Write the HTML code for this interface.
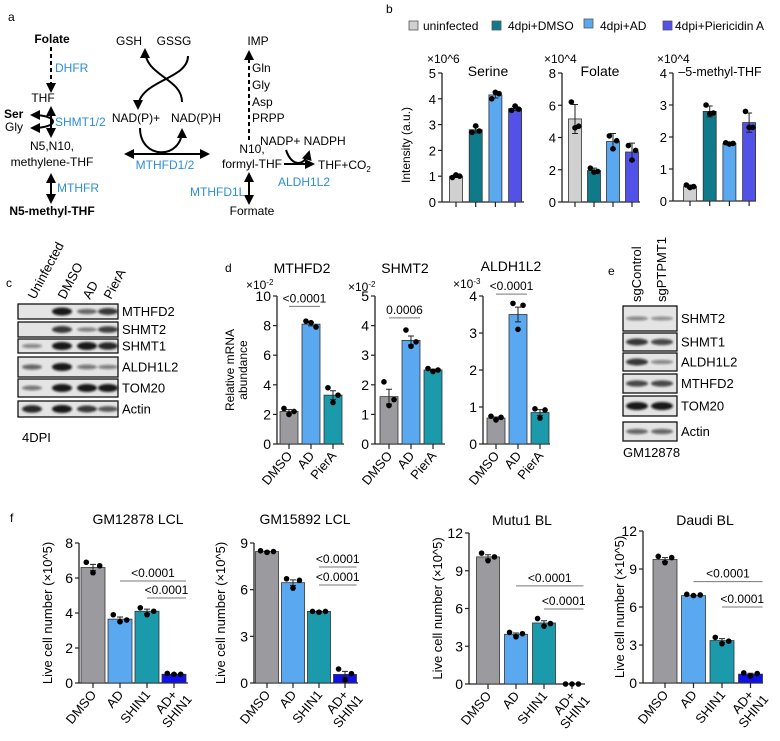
<!DOCTYPE html>
<html><head><meta charset="utf-8"><style>
html,body{margin:0;padding:0;background:#fff}
svg{display:block;font-family:"Liberation Sans",Arial,sans-serif}
</style></head><body>
<svg id="fig" width="780" height="741" viewBox="0 0 780 741" xmlns="http://www.w3.org/2000/svg">
<defs>
<filter id="blur" x="-20%" y="-50%" width="140%" height="200%"><feGaussianBlur stdDeviation="1.1"/></filter>
<marker id="ah" viewBox="0 0 10 10" refX="8" refY="5" markerWidth="5" markerHeight="5" orient="auto-start-reverse"><path d="M0,0 L10,5 L0,10 z" fill="#000"/></marker>
</defs>

<g font-size="12">
<text x="8" y="21" font-size="12">a</text>
<text x="52" y="43" text-anchor="middle" font-weight="bold">Folate</text>
<line x1="51" y1="47" x2="51" y2="91" stroke="#000" stroke-width="2" stroke-dasharray="4,3" marker-end="url(#ah)"/>
<text x="55" y="72" fill="#2b8fd8">DHFR</text>
<text x="43" y="102" text-anchor="middle">THF</text>
<line x1="51" y1="108" x2="51" y2="136" stroke="#000" stroke-width="2" marker-start="url(#ah)" marker-end="url(#ah)"/>
<text x="4" y="118" font-weight="bold">Ser</text>
<text x="5" y="131">Gly</text>
<path d="M32,115 C60,115 60,128 32,128" fill="none" stroke="#000" stroke-width="2" marker-start="url(#ah)" marker-end="url(#ah)"/>
<text x="55" y="126" fill="#2b8fd8">SHMT1/2</text>
<text x="52" y="150" text-anchor="middle">N5,N10,</text>
<text x="52" y="166" text-anchor="middle">methylene-THF</text>
<line x1="51" y1="175" x2="51" y2="202" stroke="#000" stroke-width="2" marker-start="url(#ah)" marker-end="url(#ah)"/>
<text x="57" y="192" fill="#2b8fd8">MTHFR</text>
<text x="52" y="215" text-anchor="middle" font-weight="bold">N5-methyl-THF</text>
<text x="129" y="45" text-anchor="middle">GSH</text>
<text x="174" y="45" text-anchor="middle">GSSG</text>
<path d="M188,56 C188,80 138,80 138,108" fill="none" stroke="#000" stroke-width="2" marker-end="url(#ah)"/>
<path d="M182,102 C182,78 145,76 145,50" fill="none" stroke="#000" stroke-width="2" marker-end="url(#ah)"/>
<text x="136" y="122" text-anchor="middle">NAD(P)+</text>
<text x="196" y="122" text-anchor="middle">NAD(P)H</text>
<path d="M140,128 C140,160 182,160 182,130" fill="none" stroke="#000" stroke-width="2" marker-end="url(#ah)"/>
<line x1="126" y1="154" x2="208" y2="154" stroke="#000" stroke-width="2" marker-start="url(#ah)" marker-end="url(#ah)"/>
<text x="165" y="169" text-anchor="middle" fill="#2b8fd8">MTHFD1/2</text>
<text x="258" y="45" text-anchor="middle">IMP</text>
<line x1="249" y1="140" x2="249" y2="52" stroke="#000" stroke-width="2" stroke-dasharray="4,3" marker-end="url(#ah)"/>
<text x="252" y="72">Gln</text>
<text x="252" y="89">Gly</text>
<text x="252" y="106">Asp</text>
<text x="252" y="122">PRPP</text>
<text x="260" y="145">NADP+ NADPH</text>
<text x="252" y="153" text-anchor="middle">N10,</text>
<text x="252" y="168" text-anchor="middle">formyl-THF</text>
<line x1="284" y1="164" x2="313" y2="164" stroke="#000" stroke-width="2" marker-end="url(#ah)"/>
<path d="M286,150 C292,168 305,166 309,152" fill="none" stroke="#000" stroke-width="2" marker-end="url(#ah)"/>
<text x="318" y="169">THF+CO<tspan font-size="8" dy="3">2</tspan></text>
<text x="278" y="186" fill="#2b8fd8">ALDH1L2</text>
<line x1="249" y1="174" x2="249" y2="203" stroke="#000" stroke-width="2" marker-start="url(#ah)" marker-end="url(#ah)"/>
<text x="190" y="196" fill="#2b8fd8">MTHFD1L</text>
<text x="252" y="215" text-anchor="middle">Formate</text>
</g>

<text x="386" y="13" font-size="12">b</text>
<g font-size="12">
<rect x="409" y="21" width="9" height="9" fill="#d0d0d0" stroke="#555" stroke-width="0.8"/>
<text x="423" y="30">uninfected</text>
<rect x="492" y="21" width="9" height="9" fill="#0e7a8a" stroke="#555" stroke-width="0.8"/>
<text x="508" y="30">4dpi+DMSO</text>
<rect x="584" y="19" width="9" height="9" fill="#5aa8f0" stroke="#555" stroke-width="0.8"/>
<text x="600" y="30">4dpi+AD</text>
<rect x="663" y="21" width="9" height="9" fill="#5252e8" stroke="#555" stroke-width="0.8"/>
<text x="675" y="30">4dpi+Piericidin A</text>
</g>
<text x="410" y="145" transform="rotate(-90 410 145)" text-anchor="middle" font-size="12">Intensity (a.u.)</text>

<text x="6" y="287" font-size="12">c</text>
<text x="225" y="272" font-size="12">d</text>
<text x="234" y="370" transform="rotate(-90 234 370)" text-anchor="middle" font-size="12">Relative mRNA</text>
<text x="247" y="370" transform="rotate(-90 247 370)" text-anchor="middle" font-size="12">abundance</text>
<text x="608" y="275" font-size="12">e</text>
<text x="10" y="522" font-size="12">f</text>
<g id="blots"></g>
<g id="charts"></g>
</svg>
<script>
const bCats = ["uninfected","4dpi+DMSO","4dpi+AD","4dpi+Piericidin A"];
const serineVals = [1.0, 2.8, 4.15, 3.62];
const serinePts = [[0.95,1.05,1.0],[2.7,2.95,2.75],[4.0,4.25,4.2],[3.55,3.72,3.6]];
const serineErr = [0.05, 0.12, 0.12, 0.08];
const serineTicks = [0,1,2,3,4,5];
const folateVals = [5.15, 1.95, 3.75, 3.1];
const folatePts = [[6.2,4.6,4.7],[2.1,1.85,1.9],[4.1,3.3,3.8],[3.5,2.6,3.2]];
const folateErr = [0.9, 0.15, 0.5, 0.55];
const folateTicks = [0,2,4,6,8];
const mthfVals = [0.45, 2.8, 1.8, 2.45];
const mthfPts = [[0.5,0.42,0.45],[3.0,2.72,2.75],[1.82,1.78,1.8],[2.8,2.3,2.3]];
const mthfErr = [0.05, 0.17, 0.03, 0.3];
const mthfTicks = [0,1,2,3,4];

const dCats = ["DMSO","AD","PierA"];
const mthfd2Vals = [2.2, 8.1, 3.3];
const mthfd2Pts = [[2.4,2.0,2.2],[8.3,8.2,7.9],[3.8,2.8,3.3]];
const mthfd2Err = [0.12, 0.12, 0.3];
const mthfd2Ticks = [0,2,4,6,8,10];
const shmt2Vals = [1.6, 3.5, 2.5];
const shmt2Pts = [[2.1,1.3,1.5],[3.85,3.3,3.45],[2.55,2.45,2.5]];
const shmt2Err = [0.25, 0.15, 0.03];
const shmt2Ticks = [0,1,2,3,4,5];
const aldhVals = [0.7, 3.5, 0.85];
const aldhPts = [[0.75,0.65,0.72],[3.8,3.1,3.75],[0.95,0.7,0.92]];
const aldhErr = [0.03, 0.2, 0.08];
const aldhTicks = [0,1,2,3,4];

const fCats = ["DMSO","AD","SHIN1","AD+ SHIN1"];
const gm12878Vals = [6.6, 3.65, 4.1, 0.5];
const gm12878Pts = [[6.9,6.3,6.7],[3.9,3.5,3.6],[4.3,3.9,4.1],[0.55,0.5,0.5]];
const gm12878Err = [0.18, 0.12, 0.12, 0.02];
const gm12878Ticks = [0,2,4,6,8];
const gm15892Vals = [8.45, 6.45, 4.6, 0.55];
const gm15892Pts = [[8.5,8.4,8.45],[6.7,6.1,6.6],[4.6,4.55,4.6],[0.9,0.2,0.6]];
const gm15892Err = [0.03, 0.18, 0.02, 0.2];
const gm15892Ticks = [0,3,6,9];
const mutuVals = [10.1, 3.95, 4.85, 0];
const mutuPts = [[10.4,9.8,10.1],[4.1,3.75,4.0],[5.2,4.6,4.8],[0,0,0]];
const mutuErr = [0.17, 0.1, 0.18, 0];
const mutuTicks = [0,3,6,9,12];
const daudiVals = [9.75, 6.9, 3.35, 0.7];
const daudiPts = [[10.0,9.5,9.9],[7.0,6.9,6.95],[3.6,3.1,3.3],[0.8,0.55,0.75]];
const daudiErr = [0.15, 0.03, 0.15, 0.07];
const daudiTicks = [0,3,6,9,12];

const NS = "http://www.w3.org/2000/svg";
const charts = document.getElementById("charts");
function mk(tag, attrs, parent){
  const e = document.createElementNS(NS, tag);
  for (const k in attrs) e.setAttribute(k, attrs[k]);
  parent.appendChild(e);
  return e;
}

function chart(c){
  const g = mk("g", {}, charts);
  
  
  const maxV = c.ticks[c.ticks.length-1];
  const y = v => c.yBot - (v/maxV)*(c.yBot - c.yTop);
  const xc = i => c.first + i*c.step;
  const ya = mk("line", {x1:c.ax, y1:c.yTop, x2:c.ax, y2:c.yBot, stroke:"#222", "stroke-width":1.3}, g);
  
  
  const xa = mk("line", {x1:c.ax, y1:c.yBot, x2:c.right, y2:c.yBot, stroke:"#222", "stroke-width":1.3}, g);
  
  
  c.ticks.forEach(t => {
    const tl = mk("line", {x1:c.ax-4, y1:y(t), x2:c.ax, y2:y(t), stroke:"#222", "stroke-width":1.2}, g);
    
    
    const tx = mk("text", {x:c.ax-6, y:y(t)+5, "text-anchor":"end", "font-size":c.fs||14}, g);
    
    
    tx.textContent = t;
  });
  c.vals.forEach((v,i) => {
    const bar = mk("rect", {x:xc(i)-c.bw/2, y:y(v), width:c.bw, height:Math.max(0,c.yBot-y(v)), fill:c.colors[i], stroke:"#333", "stroke-width":0.8}, g);
    
    
    const tk = mk("line", {x1:xc(i), y1:c.yBot, x2:xc(i), y2:c.yBot+5, stroke:"#222", "stroke-width":1.2}, g);
    
    
    const e = c.err[i];
    if (e > 0) {
      const eb = mk("path", {d:`M${xc(i)},${y(v+e)} V${y(v-e)} M${xc(i)-3},${y(v+e)} H${xc(i)+3} M${xc(i)-3},${y(v-e)} H${xc(i)+3}`, stroke:"#222", "stroke-width":1, fill:"none"}, g);
      
      
    }
    c.pts[i].forEach((p,j) => {
      const dot = mk("circle", {cx:xc(i)+(j-1)*c.bw*0.28, cy:y(p), r:2.8, fill:"#000"}, g);
      
      
    });
    if (c.xlab) {
      const parts = c.cats[i].split(" ");
      const lx = xc(i)+4, ly = c.yBot+12;
      const t = mk("text", {x:lx, y:ly, "text-anchor":"end", "font-size":13, transform:`rotate(-50 ${lx} ${ly})`}, g);
      
      
      if (parts.length === 1) t.textContent = parts[0];
      else {
        const s1 = mk("tspan", {x:lx, dy:0}, t); s1.textContent = parts[0];
        const s2 = mk("tspan", {x:lx+6, dy:14}, t); s2.textContent = parts[1];
      }
    }
  });
  (c.sig||[]).forEach(s => {
    const ln = mk("line", {x1:xc(s.a), y1:y(s.v), x2:xc(s.b)+c.bw/2, y2:y(s.v), stroke:"#777", "stroke-width":1}, g);
    
    
    const tx = mk("text", {x:(xc(s.a)+xc(s.b)+c.bw/2)/2, y:y(s.v)-4, "text-anchor":"middle", "font-size":12}, g);
    
    
    tx.textContent = s.t;
  });
  if (c.title) {
    const tt = mk("text", {x:c.tx, y:c.ty, "text-anchor":"middle", "font-size":c.tfs||14}, g);
    
    
    tt.textContent = c.title;
  }
  if (c.mult) {
    const mt = mk("text", {x:c.mx, y:c.my, "font-size":12}, g);
    
    
    mt.textContent = c.mult;
    if (c.sup) { const sp = mk("tspan", {dy:-4, "font-size":8}, mt); sp.textContent = c.sup; }
  }
  if (c.ylab) {
    const yl = mk("text", {x:c.ylx, y:(c.yTop+c.yBot)/2, "text-anchor":"middle", "font-size":13, transform:`rotate(-90 ${c.ylx} ${(c.yTop+c.yBot)/2})`}, g);
    
    
    yl.textContent = c.ylab;
  }
}

const bCol = ["#d0d0d0","#0e7a8a","#5aa8f0","#5252e8"];
chart({name:"serine", cats:bCats, vals:serineVals, pts:serinePts, err:serineErr, ticks:serineTicks, colors:bCol, ax:442, right:524, yTop:73, yBot:202, first:456, step:19.7, bw:13, title:"Serine", tx:488, ty:76, mult:"×10^6", mx:427, my:63, fs:13});
chart({name:"folate", cats:bCats, vals:folateVals, pts:folatePts, err:folateErr, ticks:folateTicks, colors:bCol, ax:562, right:640, yTop:73, yBot:202, first:575, step:19, bw:13, title:"Folate", tx:600, ty:76, mult:"×10^4", mx:544, my:63, fs:13});
chart({name:"methyl-thf", cats:bCats, vals:mthfVals, pts:mthfPts, err:mthfErr, ticks:mthfTicks, colors:bCol, ax:673, right:756, yTop:73, yBot:201, first:690, step:19.7, bw:13, title:"–5-methyl-THF", tx:720, ty:76, tfs:12.5, mult:"×10^4", mx:657, my:63, fs:13});

const dCol = ["#9a9a9f","#5aa8f0","#1a9aaa"];
chart({name:"mthfd2", cats:dCats, vals:mthfd2Vals, pts:mthfd2Pts, err:mthfd2Err, ticks:mthfd2Ticks, colors:dCol, ax:277, right:344, yTop:296, yBot:444, first:289, step:22, bw:18, xlab:true, title:"MTHFD2", tx:302, ty:273, mult:"×10", sup:"-2", mx:246, my:289, sig:[{a:0,b:1,v:9.3,t:"<0.0001"}]});
chart({name:"shmt2", cats:dCats, vals:shmt2Vals, pts:shmt2Pts, err:shmt2Err, ticks:shmt2Ticks, colors:dCol, ax:375, right:445, yTop:296, yBot:444, first:389, step:22, bw:18, xlab:true, title:"SHMT2", tx:405, ty:273, mult:"×10", sup:"-2", mx:348, my:291, sig:[{a:0,b:1,v:4.26,t:"0.0006"}]});
chart({name:"aldh1l2", cats:dCats, vals:aldhVals, pts:aldhPts, err:aldhErr, ticks:aldhTicks, colors:dCol, ax:483, right:550, yTop:296, yBot:444, first:496, step:22, bw:18, xlab:true, title:"ALDH1L2", tx:511, ty:271, mult:"×10", sup:"-3", mx:453, my:288, sig:[{a:0,b:1,v:4.05,t:"<0.0001"}]});

const fCol = ["#9a9a9f","#5aa8f0","#1a9aaa","#1010e8"];
const ylabF = "Live cell number (×10^5)";
chart({name:"gm12878", cats:fCats, vals:gm12878Vals, pts:gm12878Pts, err:gm12878Err, ticks:gm12878Ticks, colors:fCol, ax:79, right:188, yTop:543, yBot:683, first:93, step:27, bw:24, xlab:true, title:"GM12878 LCL", tx:138, ty:524, ylab:ylabF, ylx:52, sig:[{a:1,b:3,v:5.83,t:"<0.0001"},{a:2,b:3,v:4.86,t:"<0.0001"}]});
chart({name:"gm15892", cats:fCats, vals:gm15892Vals, pts:gm15892Pts, err:gm15892Err, ticks:gm15892Ticks, colors:fCol, ax:254, right:358, yTop:543, yBot:683, first:267, step:26, bw:23, xlab:true, title:"GM15892 LCL", tx:305, ty:524, ylab:ylabF, ylx:225, sig:[{a:2,b:3,v:7.46,t:"<0.0001"},{a:2,b:3,v:6.3,t:"<0.0001"}]});
chart({name:"mutu1", cats:fCats, vals:mutuVals, pts:mutuPts, err:mutuErr, ticks:mutuTicks, colors:fCol, ax:469, right:585, yTop:533, yBot:684, first:488, step:28, bw:23, xlab:true, title:"Mutu1 BL", tx:522, ty:525, ylab:ylabF, ylx:442, sig:[{a:1,b:3,v:7.8,t:"<0.0001"},{a:2,b:3,v:5.96,t:"<0.0001"}]});
chart({name:"daudi", cats:fCats, vals:daudiVals, pts:daudiPts, err:daudiErr, ticks:daudiTicks, colors:fCol, ax:643, right:763, yTop:531, yBot:683, first:665, step:28.5, bw:24, xlab:true, title:"Daudi BL", tx:705, ty:525, ylab:ylabF, ylx:624, sig:[{a:1,b:3,v:8.0,t:"<0.0001"},{a:2,b:3,v:6.0,t:"<0.0001"}]});

const blots = document.getElementById("blots");
const cRows = ["MTHFD2","SHMT2","SHMT1","ALDH1L2","TOM20","Actin"];
const cBoxes = [[304,319],[322,337],[339,353],[357,377],[379,397],[401,417]];
const cInt = [[0,1,0.5,0.8],[0,0.8,0.35,0.75],[0.3,1,1,0.9],[0.5,1,0.4,0.35],[0.4,1,1,1],[0.9,1,0.8,0.6]];
const cLanes = [32,62,87,108];
const cLaneNames = ["Uninfected","DMSO","AD","PierA"];
function blotRow(x0,x1,box,ints,lanes,label,lx,name,lw){
  const r = mk("rect",{x:x0,y:box[0],width:x1-x0,height:box[1]-box[0],fill:"#e4e4e4",stroke:"#111","stroke-width":1.3},blots);
  
  
  ints.forEach((v,i)=>{
    if (v<=0) return;
    const b = mk("ellipse",{cx:lanes[i],cy:(box[0]+box[1])/2,rx:lw,ry:1.2+2.8*v,fill:"#111","fill-opacity":0.25+0.7*v,filter:"url(#blur)"},blots);
    
    
  });
  const t = mk("text",{x:lx,y:(box[0]+box[1])/2+4.5,"font-size":13},blots);
  
  
  t.textContent = label;
}
cRows.forEach((n,i)=>blotRow(18,118,cBoxes[i],cInt[i],cLanes,n,122,'c-'+n.toLowerCase(),10));
cLaneNames.forEach((n,i)=>{
  const lx=cLanes[i]+3, ly=300;
  const t = mk("text",{x:lx,y:ly,"font-size":13,transform:`rotate(-62 ${lx} ${ly})`},blots);
  
  
  t.textContent = n;
});
const dpi = mk("text",{x:22,y:442,"font-size":13},blots);


dpi.textContent = "4DPI";

const eRows = ["SHMT2","SHMT1","ALDH1L2","MTHFD2","TOM20","Actin"];
const eBoxes = [[306,331],[333,351],[353,371],[374,393],[396,416],[422,441]];
const eInt = [[0.3,0.25],[0.8,0.7],[0.8,0.3],[0.7,0.7],[1,1],[0.5,0.5]];
const eLanes = [637,662];
eRows.forEach((n,i)=>blotRow(623,677,eBoxes[i],eInt[i],eLanes,n,681,'e-'+n.toLowerCase(),11));
["sgControl","sgPTPMT1"].forEach((n,i)=>{
  const lx=eLanes[i]+4, ly=302;
  const t = mk("text",{x:lx,y:ly,"font-size":13,transform:`rotate(-90 ${lx} ${ly})`},blots);
  
  
  t.textContent = n;
});
const gm = mk("text",{x:623,y:457,"font-size":13},blots);


gm.textContent = "GM12878";
</script>
</body></html>
